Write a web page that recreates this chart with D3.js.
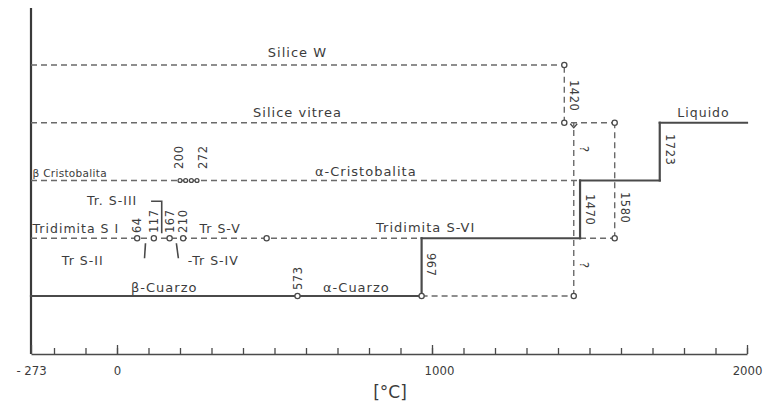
<!DOCTYPE html>
<html>
<head>
<meta charset="utf-8">
<script src="https://cdn.jsdelivr.net/npm/d3@7/dist/d3.min.js"></script>
<style>
  html, body { margin: 0; padding: 0; background: #fff; }
  svg { display: block; }
  text { font-family: "DejaVu Sans", "Liberation Sans", sans-serif; fill: #3c3c3c; }
</style>
</head>
<body>
<svg id="chart" width="771" height="405"></svg>
<script>
// Temperature axis (°C)
const tempDomain = [-273, 2000];
const labelledTicks = [-273, 0, 1000, 2000];
const minorTicks = d3.range(-200, 2001, 100);

// Phase levels, top to bottom
const levels = ["Silice W", "Silice vitrea", "Cristobalita", "Tridimita", "Cuarzo"];

// Transition temperatures (°C)
const quartzTransitions = [573, 967];
const tridymiteTransitions = [64, 117, 167, 210, 475];
const cristobaliteRange = [200, 272];
const tSiliceW = 1420;
const tTridCris = 1470;
const tTridMelt = 1580;
const tCrisMelt = 1723;
const tQuartzMelt = 1450;   // uncertain ("?")

// Stable path: [level, from, to]
const stableSegments = [
  ["Cuarzo", -273, 967],
  ["Tridimita", 967, 1470],
  ["Cristobalita", 1470, 1723],
  ["Silice vitrea", 1723, 2000]
];
// Stable steps: [temperature, lower level, upper level]
const stableSteps = [
  [967, "Cuarzo", "Tridimita"],
  [1470, "Tridimita", "Cristobalita"],
  [1723, "Cristobalita", "Silice vitrea"]
];
// Metastable continuations
const metaSegments = [
  ["Silice W", -273, 1420],
  ["Silice vitrea", -273, 1580],
  ["Cristobalita", -273, 1470],
  ["Tridimita", -273, 967],
  ["Tridimita", 1470, 1580],
  ["Cuarzo", 967, 1450]
];
const metaSteps = [
  [1420, "Silice vitrea", "Silice W"],
  [1580, "Tridimita", "Silice vitrea"],
  [1450, "Cuarzo", "Silice vitrea"]
];

const svg = d3.select("#chart");
const x = d3.scaleLinear().domain(tempDomain).range([31, 747]);
const y = d3.scalePoint().domain(levels).range([65, 296]);

const ink = "#4a4a4a";
const dashInk = "#6a6a6a";
const baseY = 354;

// ---- axes ----
svg.append("line")
  .attr("x1", x(tempDomain[0])).attr("x2", x(tempDomain[0]))
  .attr("y1", 8).attr("y2", baseY)
  .attr("stroke", "#3a3a3a").attr("stroke-width", 2.2);

const axisG = svg.append("g").attr("transform", `translate(0,${baseY})`);
axisG.call(d3.axisBottom(x).tickValues(minorTicks).tickSizeInner(-6).tickSizeOuter(0).tickFormat(""));
const majorG = svg.append("g").attr("transform", `translate(0,${baseY})`);
majorG.call(d3.axisBottom(x).tickValues(labelledTicks).tickSizeInner(-9).tickSizeOuter(0)
  .tickPadding(12).tickFormat(d => d < 0 ? "- " + (-d) : String(d)));
[axisG, majorG].forEach(g => {
  g.select(".domain").attr("stroke", ink).attr("stroke-width", 1.6);
  g.selectAll(".tick line").attr("stroke", ink).attr("stroke-width", 1.3);
});
majorG.select(".domain").remove();
majorG.selectAll(".tick text")
  .attr("font-size", 13).attr("fill", "#3c3c3c")
  .attr("dx", d => d === 1000 ? 7 : 0)
  .style("font-family", "'DejaVu Sans Condensed', 'DejaVu Sans', sans-serif");

svg.append("text").attr("x", 390).attr("y", 398)
  .attr("text-anchor", "middle").attr("font-size", 17).text("[°C]");

// ---- metastable (dashed) lines ----
const dashed = svg.append("g").attr("stroke", dashInk).attr("stroke-width", 1.4)
  .attr("stroke-dasharray", "6 4").attr("fill", "none");
dashed.selectAll("line.h").data(metaSegments).join("line").attr("class", "h")
  .attr("x1", d => x(d[1])).attr("x2", d => x(d[2]))
  .attr("y1", d => y(d[0])).attr("y2", d => y(d[0]));
dashed.selectAll("line.v").data(metaSteps).join("line").attr("class", "v")
  .attr("x1", d => x(d[0])).attr("x2", d => x(d[0]))
  .attr("y1", d => y(d[1])).attr("y2", d => y(d[2]));

// fork at the top of the uncertain quartz melting line
const forkX = x(tQuartzMelt), forkY = y("Silice vitrea");
svg.append("path")
  .attr("d", d3.line()([[forkX - 3.5, forkY + 1], [forkX, forkY + 5], [forkX + 3.5, forkY + 1]]))
  .attr("fill", "none").attr("stroke", ink).attr("stroke-width", 1.3);

// ---- stable path (solid) ----
const solid = svg.append("g").attr("stroke", ink).attr("stroke-width", 2.2)
  .attr("stroke-linecap", "square");
solid.selectAll("line.h").data(stableSegments).join("line").attr("class", "h")
  .attr("x1", d => x(d[1])).attr("x2", d => x(d[2]))
  .attr("y1", d => y(d[0])).attr("y2", d => y(d[0]));
solid.selectAll("line.v").data(stableSteps).join("line").attr("class", "v")
  .attr("x1", d => x(d[0])).attr("x2", d => x(d[0]))
  .attr("y1", d => y(d[1])).attr("y2", d => y(d[2]));

// ---- β/α cristobalite transition range, drawn as a row of rings ----
const crisY = y("Cristobalita");
const ringGap = (x(cristobaliteRange[1]) - x(cristobaliteRange[0])) / 4;
[[ink, 5.2], ["#fff", 2.6]].forEach(([c, w]) => {
  svg.append("line")
    .attr("x1", x(cristobaliteRange[0])).attr("x2", x(cristobaliteRange[1]))
    .attr("y1", crisY).attr("y2", crisY)
    .attr("stroke", c).attr("stroke-width", w).attr("stroke-linecap", "round")
    .attr("stroke-dasharray", `0 ${ringGap}`);
});

// ---- transition points ----
const points = [
  ...quartzTransitions.map(t => [t, "Cuarzo"]),
  [tQuartzMelt, "Cuarzo"],
  ...tridymiteTransitions.map(t => [t, "Tridimita"]),
  [tTridMelt, "Tridimita"],
  [tTridMelt, "Silice vitrea"],
  [tSiliceW, "Silice vitrea"],
  [tSiliceW, "Silice W"]
];
svg.append("g").selectAll("circle").data(points).join("circle")
  .attr("cx", d => x(d[0])).attr("cy", d => y(d[1])).attr("r", 2.6)
  .attr("fill", "#fff").attr("stroke", ink).attr("stroke-width", 1.3);

// ---- rotated temperature labels ----
function vLabel(t, yPos, text, up, dx) {
  const px = x(t) + dx;
  svg.append("text")
    .attr("transform", `translate(${px},${yPos}) rotate(${up ? -90 : 90})`)
    .attr("font-size", 11.5).attr("dy", "0.35em").attr("letter-spacing", 0.5)
    .text(text);
}
vLabel(cristobaliteRange[0], 169, String(cristobaliteRange[0]), true, -1);
vLabel(cristobaliteRange[1], 169, String(cristobaliteRange[1]), true, 0);
tridymiteTransitions.slice(0, 4).forEach(t => vLabel(t, 233, String(t), true, 0));
vLabel(quartzTransitions[0], 290, String(quartzTransitions[0]), true, 0);
vLabel(quartzTransitions[1], 253, String(quartzTransitions[1]), false, 9);
vLabel(tSiliceW, 80, String(tSiliceW), false, 10);
vLabel(tTridCris, 194, String(tTridCris), false, 10);
vLabel(tTridMelt, 192, String(tTridMelt), false, 10);
vLabel(tCrisMelt, 134, String(tCrisMelt), false, 10);
vLabel(tQuartzMelt, 146, "?", false, 10);
vLabel(tQuartzMelt, 262, "?", false, 10);

// ---- phase names ----
function label(t, level, dy, text, size, anchor) {
  svg.append("text").attr("x", x(t)).attr("y", y(level) + dy)
    .attr("text-anchor", anchor || "middle")
    .attr("font-size", size).attr("letter-spacing", size > 11 ? 1 : 0.3)
    .text(text);
}
label(573, "Silice W", -8, "Silice W", 13);
label(573, "Silice vitrea", -6, "Silice vitrea", 13);
label(790, "Cristobalita", -5, "α-Cristobalita", 13);
label(980, "Tridimita", -6, "Tridimita S-VI", 13);
label(150, "Cuarzo", -4, "β-Cuarzo", 13);
label(760, "Cuarzo", -4, "α-Cuarzo", 13);
label(1862, "Silice vitrea", -6, "Liquido", 12.5);
label(-268, "Cristobalita", -4, "β Cristobalita", 10.5, "start");
label(-268, "Tridimita", -5, "Tridimita S I", 12.5, "start");
label(-175, "Tridimita", 27, "Tr S-II", 12.5, "start");
label(-95, "Tridimita", -33, "Tr. S-III", 12.5, "start");
label(262, "Tridimita", -5, "Tr S-V", 12.5, "start");
label(225, "Tridimita", 27, "-Tr S-IV", 12.5, "start");

// ---- leader lines from the small tridymite labels ----
const tY = y("Tridimita");
const mid = (a, b) => (a + b) / 2;
const leader = d3.line();
const leaders = svg.append("g").attr("stroke", ink).attr("stroke-width", 1.6).attr("fill", "none");
leaders.append("path").attr("d", leader([
  [x(-95) + 64, tY - 37], [x(mid(tridymiteTransitions[1], tridymiteTransitions[2])), tY - 37],
  [x(mid(tridymiteTransitions[1], tridymiteTransitions[2])), tY - 5]]));
leaders.append("path").attr("d", leader([
  [x(mid(tridymiteTransitions[0], tridymiteTransitions[1])), tY + 5],
  [x(mid(tridymiteTransitions[0], tridymiteTransitions[1])) - 1, tY + 20]]));
leaders.append("path").attr("d", leader([
  [x(mid(tridymiteTransitions[2], tridymiteTransitions[3])), tY + 5],
  [x(mid(tridymiteTransitions[2], tridymiteTransitions[3])) + 2, tY + 20]]));
</script>
</body>
</html>
